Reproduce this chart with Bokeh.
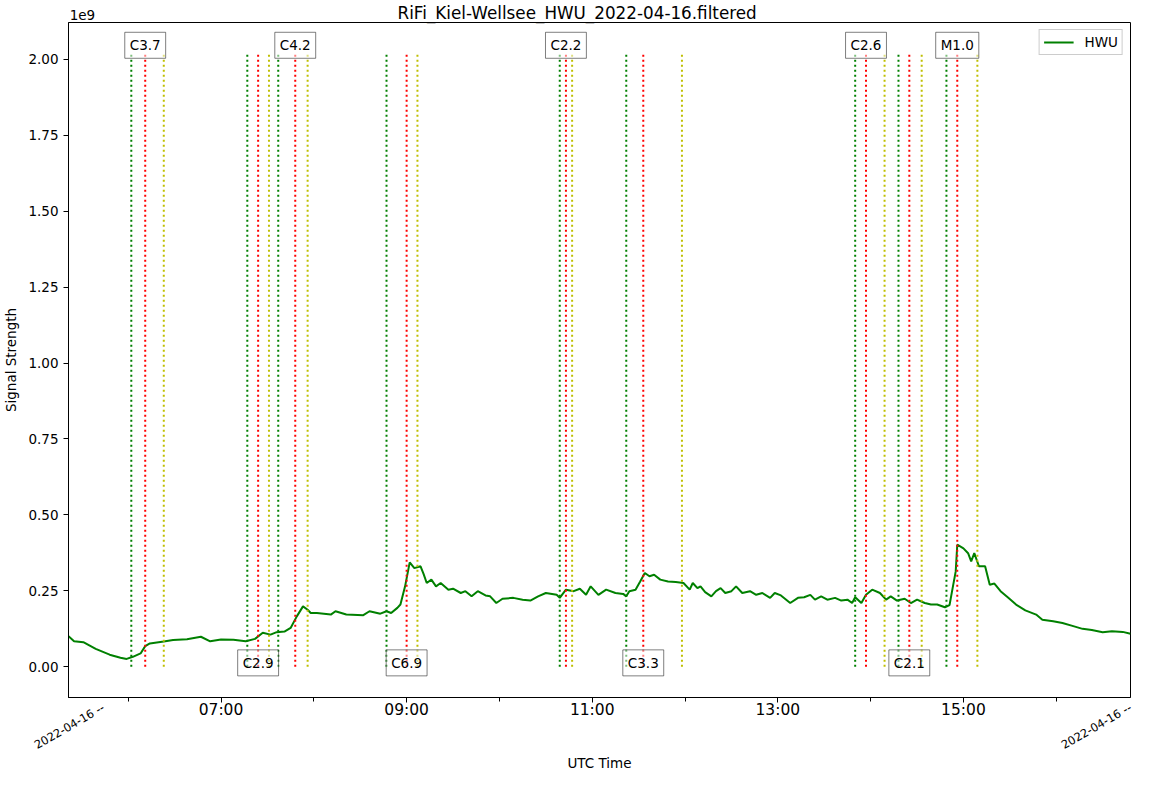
import pandas as pd
from bokeh.plotting import figure
from bokeh.models import (Range1d, FixedTicker, DatetimeTickFormatter, NumeralTickFormatter,
                          Label, Title, LinearAxis, CustomJSTickFormatter)
from bokeh.embed import file_html
from bokeh.resources import INLINE

DATE = "2022-04-16"
TITLE = "RiFi_Kiel-Wellsee_HWU_2022-04-16.filtered"
STATION = "HWU"
OFFSET_TEXT = "1e9"
EDGE_TICK_LABEL = "2022-04-16 --"

# HWU signal strength (units of 1e9), UTC time of day
times = [
    "05:21:24", "05:25", "05:31", "05:39", "05:48", "05:55", "05:59", "06:03", "06:08", "06:11",
    "06:14", "06:23", "06:29", "06:38", "06:47", "06:53", "07:00", "07:08", "07:16", "07:22",
    "07:27", "07:32", "07:36", "07:41", "07:45", "07:49", "07:53", "07:56", "07:58", "08:02",
    "08:11", "08:14", "08:21", "08:32", "08:36", "08:43", "08:47", "08:50", "08:54", "08:56",
    "08:59", "09:02", "09:05", "09:09",
    "09:11", "09:13", "09:16", "09:19", "09:22", "09:27", "09:30", "09:35", "09:38", "09:42",
    "09:46", "09:51", "09:54", "09:58", "10:02", "10:09", "10:15", "10:20", "10:25", "10:30",
    "10:37", "10:39", "10:43", "10:48", "10:52", "10:56", "10:59", "11:04", "11:09", "11:15",
    "11:20", "11:22", "11:24", "11:28", "11:31", "11:34", "11:37", "11:40", "11:44", "11:49",
    "11:54", "11:59", "12:03",
    "12:05", "12:08", "12:10", "12:13", "12:17", "12:20", "12:23", "12:26", "12:30", "12:33",
    "12:37", "12:42", "12:46", "12:50", "12:55", "12:58", "13:02", "13:08", "13:13", "13:17",
    "13:21", "13:24", "13:28", "13:32", "13:37", "13:41", "13:45", "13:48", "13:50", "13:54",
    "13:57", "14:01", "14:06", "14:10", "14:13", "14:17", "14:22", "14:26", "14:30", "14:35",
    "14:39", "14:43", "14:48", "14:51", "14:53", "14:55",
    "14:56", "15:00", "15:03", "15:05", "15:07", "15:10", "15:14", "15:17", "15:20", "15:24",
    "15:29", "15:34", "15:40", "15:47", "15:51", "15:58", "16:04", "16:11", "16:17", "16:23",
    "16:30", "16:36", "16:43", "16:48",
]
signal = [
    0.101, 0.084, 0.081, 0.059, 0.040, 0.030, 0.026, 0.033, 0.044, 0.068,
    0.077, 0.083, 0.088, 0.091, 0.099, 0.084, 0.090, 0.089, 0.084, 0.092,
    0.112, 0.106, 0.114, 0.116, 0.128, 0.166, 0.199, 0.188, 0.177, 0.177,
    0.172, 0.183, 0.172, 0.170, 0.183, 0.175, 0.183, 0.177, 0.194, 0.205,
    0.265, 0.344, 0.325, 0.331,
    0.305, 0.276, 0.287, 0.265, 0.276, 0.254, 0.257, 0.243, 0.249, 0.232,
    0.249, 0.235, 0.232, 0.210, 0.224, 0.227, 0.221, 0.218, 0.232, 0.243,
    0.237, 0.227, 0.254, 0.249, 0.257, 0.237, 0.265, 0.237, 0.254, 0.243,
    0.240, 0.232, 0.249, 0.254, 0.281, 0.309, 0.298, 0.303, 0.287, 0.281,
    0.279, 0.276, 0.254,
    0.276, 0.259, 0.265, 0.246, 0.232, 0.249, 0.259, 0.243, 0.249, 0.265,
    0.243, 0.249, 0.237, 0.243, 0.227, 0.243, 0.235, 0.210, 0.227, 0.229,
    0.237, 0.221, 0.232, 0.221, 0.227, 0.218, 0.221, 0.210, 0.229, 0.210,
    0.237, 0.254, 0.243, 0.221, 0.232, 0.218, 0.224, 0.210, 0.221, 0.210,
    0.205, 0.205, 0.196, 0.203, 0.259, 0.314,
    0.402, 0.390, 0.374, 0.347, 0.374, 0.331, 0.331, 0.270, 0.274, 0.249,
    0.227, 0.205, 0.186, 0.172, 0.155, 0.150, 0.144, 0.134, 0.125, 0.121,
    0.114, 0.117, 0.115, 0.109,
]

# Flares (GOES class) with start / peak / end times
flare_classes = ["C3.7", "C2.9", "C4.2", "C6.9", "C2.2", "C3.3", "C2.6", "C2.1", "M1.0"]
flare_start = ["06:02", "07:17", "07:37", "08:47", "10:39", "11:22", "13:50", "14:18", "14:49"]
flare_peak = ["06:11", "07:24", "07:48", "09:00", "10:43", "11:33", "13:57", "14:25", "14:56"]
flare_end = ["06:23", "07:31", "07:56", "09:07", "10:47", "11:58", "14:09", "14:33", "15:09"]
flare_label_side = ["top", "bottom", "top", "bottom", "top", "bottom", "top", "bottom", "top"]

y_ticks = [0.0, 0.25, 0.5, 0.75, 1.0, 1.25, 1.5, 1.75, 2.0]
x_major_ticks = ["07:00", "09:00", "11:00", "13:00", "15:00"]
x_minor_ticks = ["06:00", "08:00", "10:00", "12:00", "14:00", "16:00"]
x_start, x_end = "05:21:24", "16:48:00"
edge_label_anchors = ["05:44:00", "16:48:00"]
offset_text_anchor = "05:30:24"


def ms(t):
    return float(pd.Timestamp(f"{DATE} {t}").value // 10**6)


FONT = "DejaVu Sans"
x_vals = [pd.Timestamp(f"{DATE} {t}") for t in times]

p = figure(width=1153, height=776, output_backend="svg", toolbar_location=None,
           x_axis_type="datetime", title=None,
           x_range=Range1d(ms(x_start), ms(x_end)),
           y_range=Range1d(-0.101, 2.121),
           min_border_left=67, min_border_right=23, min_border_top=21, min_border_bottom=79)

p.grid.visible = False
p.outline_line_color = "black"
p.outline_line_alpha = 1.0
p.outline_line_width = 1
p.background_fill_color = "white"
p.border_fill_color = "white"

# title (nearest to the frame in the "above" panel)
p.add_layout(Title(text=TITLE, align="left", offset=329, standoff=0,
                   text_font=FONT, text_font_size="16.8px", text_font_style="normal",
                   text_color="black"), "above")

# curve
p.line(x_vals, signal, line_color="#008000", line_width=2, legend_label=STATION)

# flare marker lines
VTOP = 2.02
for starts, color in ((flare_start, "#008000"), (flare_peak, "#ff0000"), (flare_end, "#bfbf00")):
    xs = [ms(t) for t in starts]
    p.segment(x0=xs, y0=[0] * len(xs), x1=xs, y1=[VTOP] * len(xs),
              line_color=color, line_width=2, line_dash="2 3")

# flare labels
for cls, peak, side in zip(flare_classes, flare_peak, flare_label_side):
    yy = 2.046 if side == "top" else 0.013
    p.add_layout(Label(x=ms(peak), y=yy, text=cls, text_align="center", text_baseline="middle",
                       text_font=FONT, text_font_size="13.5px", text_color="black",
                       background_fill_color="white", background_fill_alpha=0.5,
                       border_line_color="black", border_line_alpha=0.5, border_line_width=1,
                       padding=5))

# main x axis
xa = p.xaxis[0]
xa.ticker = FixedTicker(ticks=[ms(t) for t in x_major_ticks],
                        minor_ticks=[ms(t) for t in x_minor_ticks])
fmt = "%H:%M"
xa.formatter = DatetimeTickFormatter(hours=fmt, hourmin=fmt, minutes=fmt, minsec=fmt,
                                     seconds=fmt, days=fmt)
xa.major_label_standoff = -2
xa.major_label_text_font_size = "15.5px"

# secondary bottom axis: rotated date labels at the range ends + axis title
xb = LinearAxis(ticker=FixedTicker(ticks=[ms(t) for t in edge_label_anchors], minor_ticks=[]),
                formatter=CustomJSTickFormatter(args=dict(txt=EDGE_TICK_LABEL), code="return txt"),
                major_label_orientation=0.5236)
xb.axis_line_color = None
xb.major_tick_line_color = None
xb.minor_tick_line_color = None
xb.major_tick_out = 0
xb.minor_tick_out = 0
xb.major_label_standoff = -15
xb.major_label_text_font_size = "11.5px"
xb.axis_label = "UTC Time"
xb.axis_label_standoff = -6
p.add_layout(xb, "below")

# offset text "1e9" above the frame (outer "above" axis)
xt = LinearAxis(ticker=FixedTicker(ticks=[ms(offset_text_anchor)], minor_ticks=[]),
                formatter=CustomJSTickFormatter(args=dict(txt=OFFSET_TEXT), code="return txt"))
xt.axis_line_color = None
xt.major_tick_line_color = None
xt.minor_tick_line_color = None
xt.major_tick_out = 0
xt.minor_tick_out = 0
xt.major_label_standoff = -19
xt.major_label_text_font_size = "13.5px"
p.add_layout(xt, "above")

ya = p.yaxis[0]
ya.ticker = FixedTicker(ticks=y_ticks, minor_ticks=[])
ya.formatter = NumeralTickFormatter(format="0.00")
ya.axis_label = "Signal Strength"
ya.axis_label_standoff = 6
ya.major_label_standoff = 5
ya.major_label_text_font_size = "13.5px"

for ax in (xa, ya):
    ax.axis_line_color = "black"
    ax.major_tick_line_color = "black"
    ax.minor_tick_line_color = "black"
    ax.major_tick_out = 5
    ax.major_tick_in = 0
    ax.minor_tick_out = 4
    ax.minor_tick_in = 0
for ax in (xa, xb, xt, ya):
    ax.major_label_text_font = FONT
    ax.major_label_text_color = "black"
    ax.axis_label_text_font = FONT
    ax.axis_label_text_font_size = "13.5px"
    ax.axis_label_text_font_style = "normal"
    ax.axis_label_text_color = "black"

lg = p.legend[0]
lg.location = "top_right"
lg.margin = 7
lg.padding = 4
lg.spacing = 0
lg.glyph_width = 30
lg.glyph_height = 16
lg.label_height = 16
lg.label_standoff = 11
lg.label_text_font = FONT
lg.label_text_font_size = "13.5px"
lg.label_text_color = "black"
lg.border_line_color = "#cccccc"
lg.border_line_alpha = 1.0
lg.background_fill_alpha = 0.8

open("out.html", "w").write(file_html(p, INLINE))
